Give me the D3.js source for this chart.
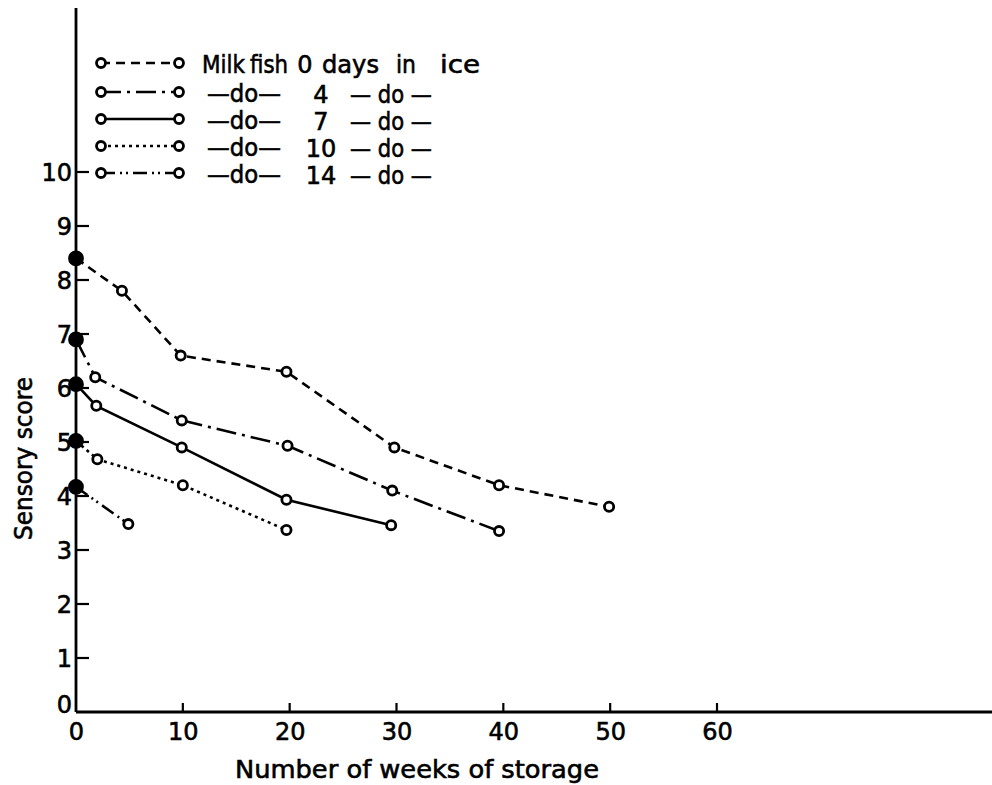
<!DOCTYPE html>
<html><head><meta charset="utf-8">
<script src="https://cdn.jsdelivr.net/npm/d3@7"></script>
<style>body{margin:0;background:#fff}svg{display:block}text{font-family:"DejaVu Sans",sans-serif;fill:#000;stroke:#000;stroke-width:0.6px}</style>
</head><body><svg id="c" width="992" height="785"></svg>
<script>
const xTicks = [0,10,20,30,40,50,60];
const yTicks = [0,1,2,3,4,5,6,7,8,9,10];
const weeks0 = [0,4.3,9.8,19.7,29.8,39.6,49.9];
const score0 = [8.4,7.8,6.6,6.3,4.9,4.2,3.8];
const weeks4 = [0,1.8,9.9,19.8,29.6,39.6];
const score4 = [6.9,6.2,5.4,4.93,4.1,3.35];
const weeks7 = [0,1.9,9.9,19.7,29.5];
const score7 = [6.07,5.67,4.9,3.93,3.46];
const weeks10 = [0,2.0,10.0,19.7];
const score10 = [5.02,4.68,4.2,3.37];
const weeks14 = [0,4.9];
const score14 = [4.17,3.48];
const legendNum = ["0","4","7","10","14"];

const series = [
  {w:weeks0,s:score0,dash:"9,6"},
  {w:weeks4,s:score4,dash:"20,6,3,6"},
  {w:weeks7,s:score7,dash:null},
  {w:weeks10,s:score10,dash:"3,4"},
  {w:weeks14,s:score14,dash:"14,5,2,4,2,5"}
];

const svg = d3.select("#c");
const x = d3.scaleLinear().domain([0,60]).range([76,717]);
const y = d3.scaleLinear().domain([0,10]).range([712,172]);

// axes lines
svg.append("line").attr("x1",76).attr("x2",992).attr("y1",712).attr("y2",712).attr("stroke","#000").attr("stroke-width",2.8);
svg.append("line").attr("x1",76).attr("x2",76).attr("y1",8).attr("y2",712).attr("stroke","#000").attr("stroke-width",2.8);

// x ticks
const xa = d3.axisBottom(x).tickValues(xTicks).tickSize(0).tickPadding(11).tickFormat(d3.format("d"));
const gx = svg.append("g").attr("transform","translate(0,712)").call(xa);
gx.select(".domain").remove();
gx.selectAll("text").attr("font-size",24).attr("font-family","DejaVu Sans").attr("fill","#000");
svg.selectAll(".xt").data(xTicks.filter(d=>d>0)).join("line").attr("class","xt")
  .attr("x1",d=>x(d)).attr("x2",d=>x(d)).attr("y1",712).attr("y2",703).attr("stroke","#000").attr("stroke-width",2.2);

// y ticks
const ya = d3.axisLeft(y).tickValues(yTicks).tickSize(0).tickPadding(4).tickFormat(d3.format("d"));
const gy = svg.append("g").attr("transform","translate(76,0)").call(ya);
gy.select(".domain").remove();
gy.selectAll("text").attr("font-size",24).attr("font-family","DejaVu Sans").attr("fill","#000")
  .attr("dy",(d)=> d===0 ? "0" : "0.36em");
svg.selectAll(".yt").data(yTicks.filter(d=>d>0)).join("line").attr("class","yt")
  .attr("x1",76).attr("x2",89).attr("y1",d=>y(d)).attr("y2",d=>y(d)).attr("stroke","#000").attr("stroke-width",2.2);

// axis titles
svg.append("text").attr("x",235).attr("y",778).attr("font-size",24)
  .attr("textLength",364).attr("lengthAdjust","spacingAndGlyphs").text("Number of weeks of storage");
svg.append("text").attr("transform","translate(32,540) rotate(-90)").attr("font-size",24)
  .attr("textLength",163).attr("lengthAdjust","spacingAndGlyphs").text("Sensory score");

// lines
const line = d3.line().x(d=>x(d[0])).y(d=>y(d[1]));
series.forEach(sr=>{
  const pts = sr.w.map((w,i)=>[w,sr.s[i]]);
  svg.append("path").attr("d",line(pts)).attr("fill","none").attr("stroke","#000").attr("stroke-width",2.6)
    .attr("stroke-dasharray",sr.dash);
  svg.selectAll(null).data(pts).join("circle")
    .attr("cx",d=>x(d[0])).attr("cy",d=>y(d[1]))
    .attr("r",(d,i)=> i===0 ? 6.5 : 4.6)
    .attr("fill",(d,i)=> i===0 ? "#000" : "#fff")
    .attr("stroke","#000").attr("stroke-width",2.8);
});

// legend
const rowsY = [63,92,119,146,173];
function word(txt,xx,yy,len,anchor){
  const t = svg.append("text").attr("x",xx).attr("y",yy).attr("dy","0.36em").attr("font-size",24).text(txt);
  if(len) t.attr("textLength",len).attr("lengthAdjust","spacingAndGlyphs");
  if(anchor) t.attr("text-anchor",anchor);
  return t;
}
series.forEach((sr,i)=>{
  const yy = rowsY[i];
  svg.append("line").attr("x1",101).attr("x2",179).attr("y1",yy).attr("y2",yy).attr("stroke","#000").attr("stroke-width",2.6).attr("stroke-dasharray",sr.dash);
  [101,179].forEach(cx=>svg.append("circle").attr("cx",cx).attr("cy",yy).attr("r",4.5).attr("fill","#fff").attr("stroke","#000").attr("stroke-width",2.8));
  const ty = yy+1;
  if(i===0){
    word("Milk",202,ty,43);
    word("fish",250,ty,38);
    word(legendNum[i],305,ty,null,"middle");
    word("days",322,ty,57);
    word("in",396,ty,20);
    word("ice",440,ty,40);
  } else {
    word("—do—",207,ty,74);
    word(legendNum[i],321,ty+1,null,"middle");
    word("— do —",350,ty+1,82);
  }
});
</script></body></html>
